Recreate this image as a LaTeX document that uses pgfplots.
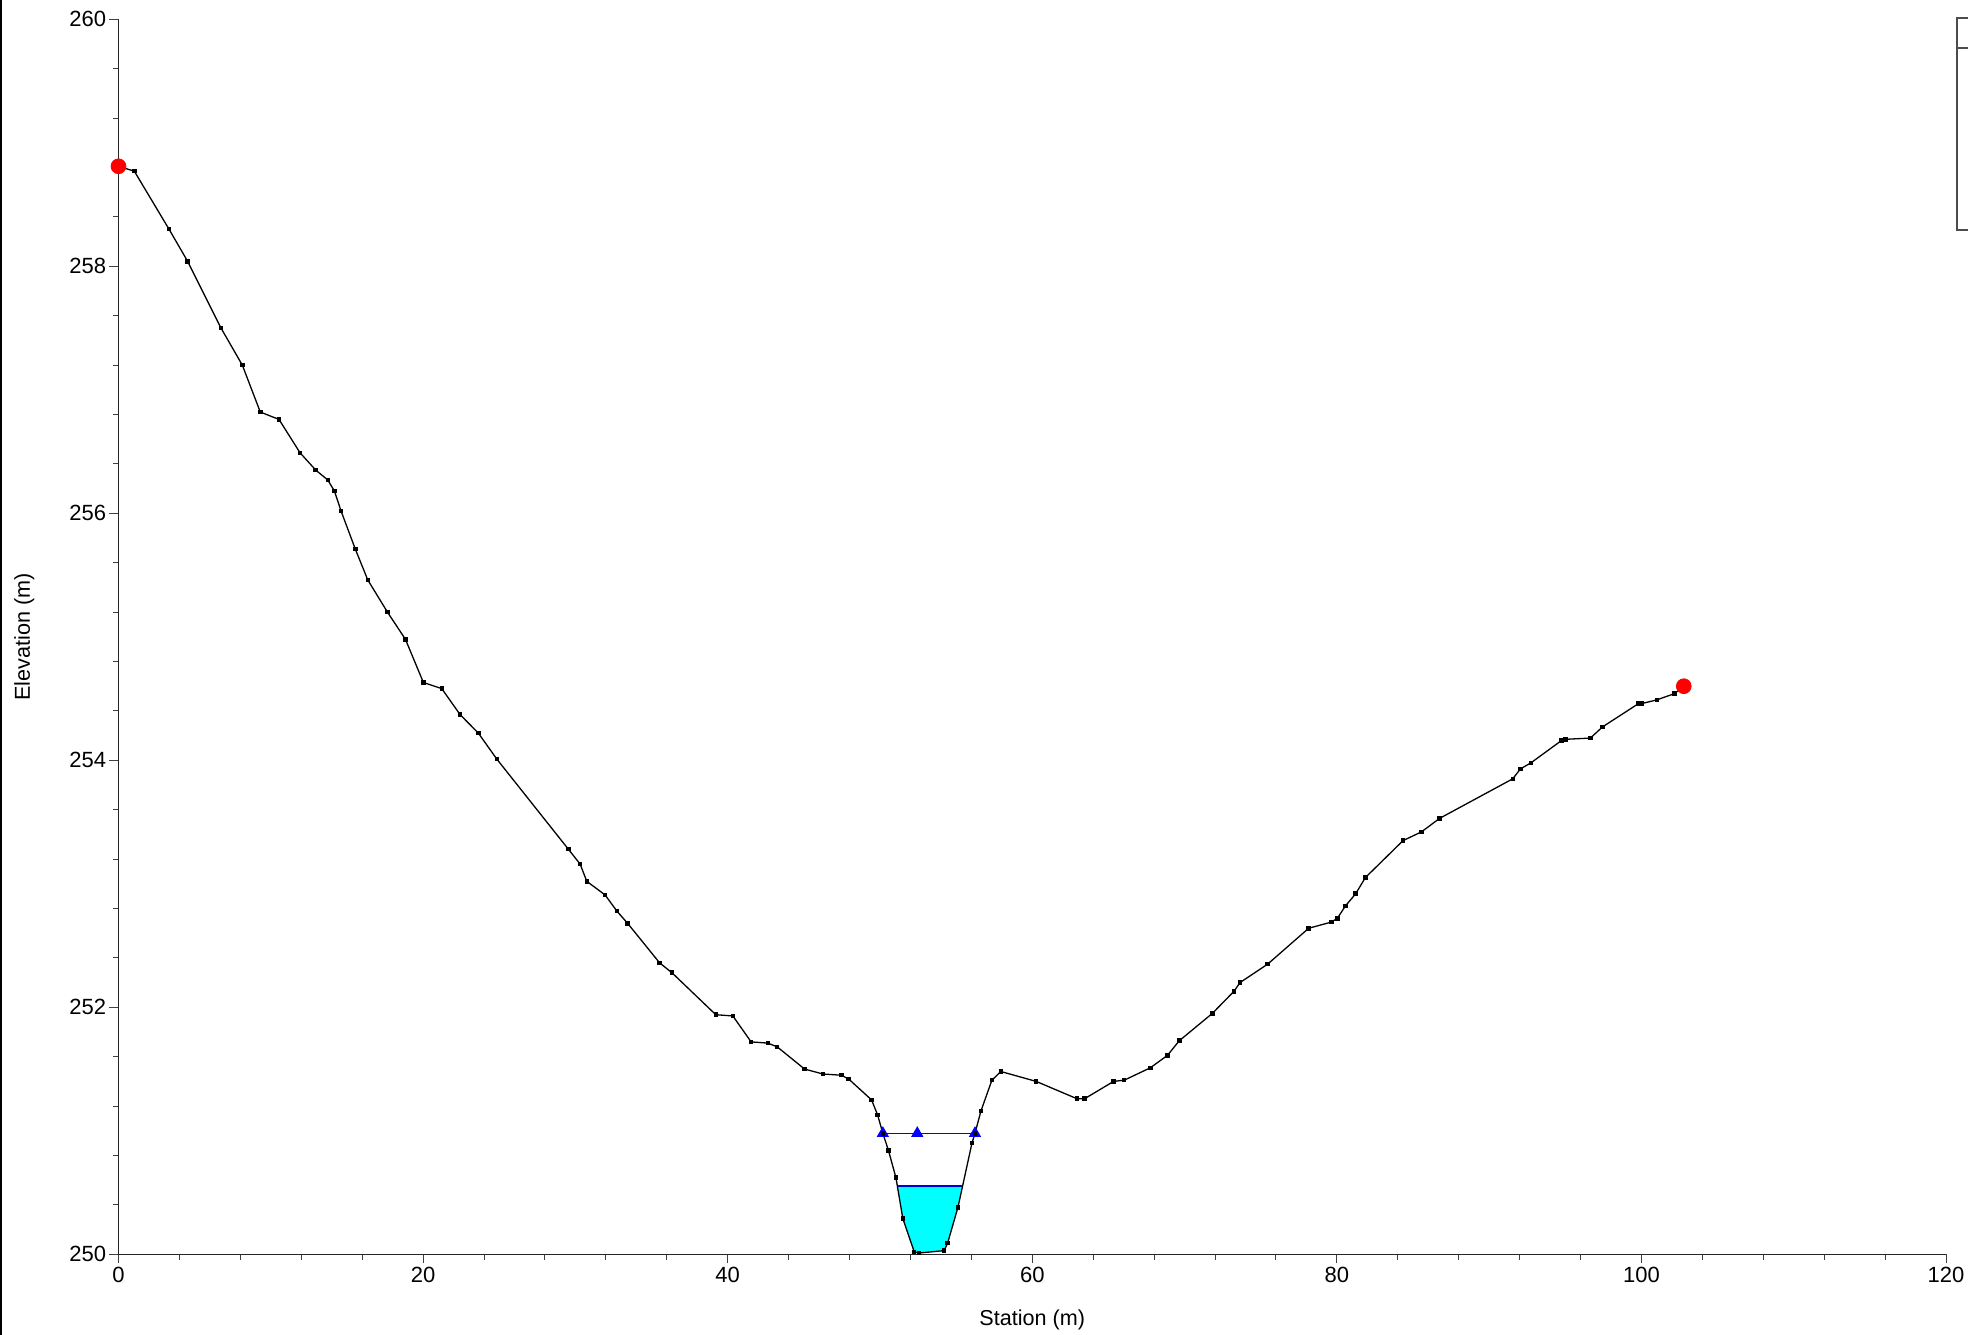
\documentclass[border=0pt]{standalone}
\usepackage{pgfplots}
\pgfplotsset{compat=1.18}
\usepackage{fontspec}
\setmainfont{Liberation Sans}
\definecolor{aqua}{RGB}{0,255,255}
\definecolor{wsblue}{RGB}{0,0,255}
\begin{document}
\begin{tikzpicture}
\begin{axis}[name=ax, scale only axis, width=913.75pt, height=617.5pt,
 xmin=0, xmax=120, ymin=250, ymax=260,
 axis lines=left, axis line style={-, black!85, line width=0.6pt},
 xtick={0,20,...,120}, ytick={250,252,...,260},
 minor x tick num=4, minor y tick num=4,
 tick align=outside, major tick length=4.5pt, minor tick length=2.7pt,
 every tick/.style={black!75, line width=0.5pt},
 tick label style={font=\fontsize{11}{13}\selectfont},
 yticklabel style={inner sep=1.5pt},
 xticklabel style={inner sep=1.5pt},
 /pgf/number format/assume math mode=true,
 xlabel={Station (m)}, ylabel={Elevation (m)},
 label style={font=\fontsize{10.8}{13}\selectfont},
 xlabel style={at={(axis description cs:0.5,-0.0534)}, anchor=center},
 ylabel style={at={(axis description cs:-0.0515,0.5)}, anchor=center},
 clip=false]
% water fill
\addplot[fill=aqua, draw=none] coordinates {
(51.18,250.55) (51.5,250.29) (52.25,250.02) (52.55,250.01) (54.22,250.03)
(54.44,250.09) (55.12,250.38) (55.40,250.55)} -- cycle;
\addplot[wsblue!85!black, line width=0.9pt] coordinates {(51.18,250.55) (55.40,250.55)};
% blue line with triangles
\addplot[wsblue, line width=0.65pt, mark=triangle*, mark size=2.9pt, mark options={solid, fill=wsblue}]
 coordinates {(50.19,250.98) (52.45,250.98) (56.24,250.98)};
% ground
\addplot[black, line width=0.65pt, mark=square*, mark size=0.8pt] coordinates {
(0,258.81) (1.04,258.77) (3.32,258.30) (4.54,258.04) (6.73,257.50) (8.13,257.20)
(9.31,256.82) (10.54,256.76) (11.92,256.49) (12.95,256.35) (13.74,256.27) (14.18,256.18)
(14.61,256.02) (15.55,255.71) (16.37,255.46) (17.66,255.20) (18.84,254.98) (20.02,254.63)
(21.23,254.58) (22.43,254.37) (23.63,254.22) (24.84,254.01) (29.54,253.28) (30.31,253.16)
(30.75,253.02) (31.95,252.91) (32.72,252.78) (33.43,252.68) (35.53,252.36) (36.34,252.28)
(39.22,251.94) (40.34,251.93) (41.54,251.72) (42.64,251.71) (43.25,251.68) (45.05,251.50)
(46.25,251.46) (47.46,251.45) (47.94,251.42) (49.45,251.25) (49.84,251.13) (50.19,250.98)
(50.56,250.84) (51.05,250.62) (51.5,250.29) (52.25,250.02) (52.55,250.01) (54.22,250.03)
(54.44,250.09) (55.12,250.38) (56.04,250.90) (56.24,250.98) (56.63,251.16) (57.35,251.41)
(57.94,251.48) (60.26,251.40) (62.93,251.26) (63.44,251.26) (65.34,251.40) (66.04,251.41)
(67.75,251.51) (68.87,251.61) (69.66,251.73) (71.82,251.95) (73.25,252.13) (73.64,252.20)
(75.46,252.35) (78.15,252.64) (79.64,252.69) (80.03,252.72) (80.56,252.82) (81.24,252.92)
(81.87,253.05) (84.35,253.35) (85.55,253.42) (86.75,253.53) (91.55,253.85) (92.05,253.93)
(92.75,253.98) (94.75,254.16) (95.01,254.17) (96.65,254.18) (97.44,254.27) (99.82,254.46)
(100.04,254.46) (101.03,254.49) (102.17,254.54) (102.78,254.60)};
% bank stations
\addplot[only marks, mark=*, mark size=3.7pt, color=red, mark options={fill=red}]
 coordinates {(0,258.81) (102.78,254.60)};
\end{axis}
\pgfresetboundingbox
\path[use as bounding box] ([shift={(-59.25pt,-40pt)}]ax.south west) rectangle ([shift={(11pt,9.65pt)}]ax.north east);
\draw[black, line width=1pt] ([shift={(-58.75pt,-41pt)}]ax.south west) -- ([shift={(-58.75pt,11pt)}]ax.north west);
\draw[black!70, line width=1pt] ([shift={(5.5pt,0.65pt)}]ax.north east) rectangle ([shift={(40pt,-105.35pt)}]ax.north east);
\draw[black!70, line width=0.8pt] ([shift={(5.5pt,-14.35pt)}]ax.north east) -- ++(40pt,0);
\end{tikzpicture}
\end{document}
